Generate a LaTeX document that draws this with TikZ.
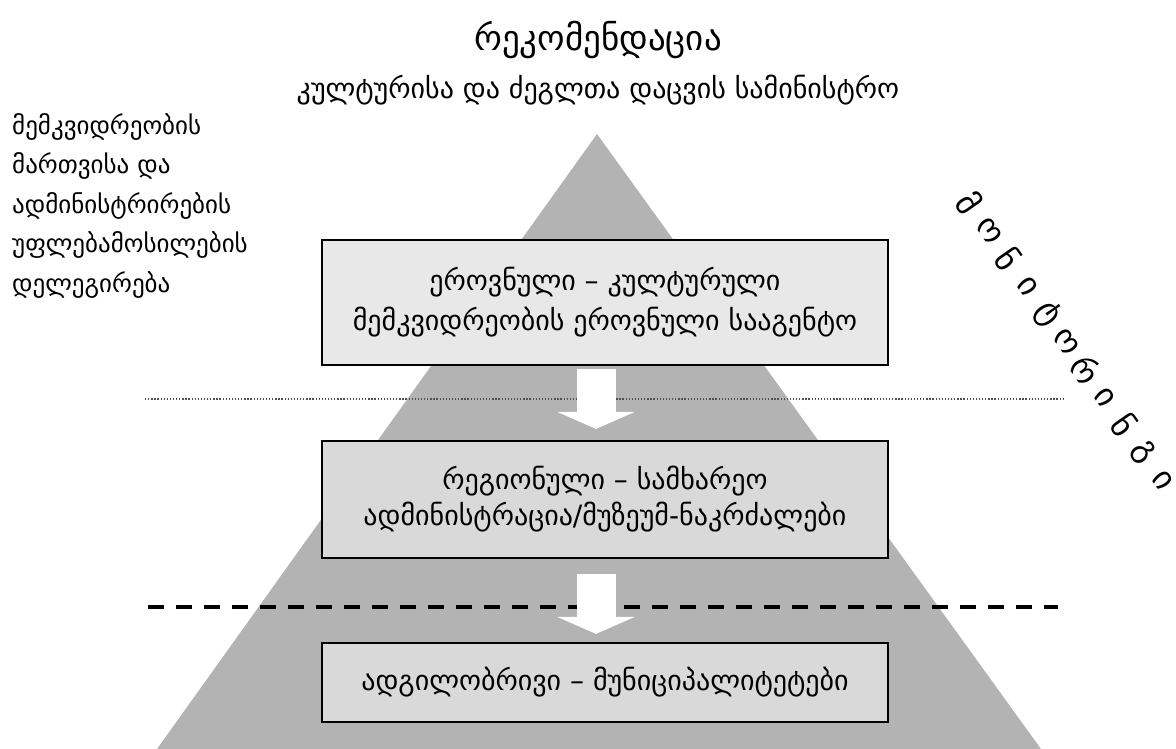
\documentclass[tikz,border=0pt]{standalone}
\usepackage{fontspec}
\setmainfont{DejaVu Sans}
\usetikzlibrary{arrows.meta,calc}
\definecolor{trigray}{HTML}{B3B3B3}
\definecolor{boxlight}{HTML}{E8E8E8}
\definecolor{boxmid}{HTML}{D9D9D9}
\definecolor{dotgray}{HTML}{505050}
\begin{document}
\begin{tikzpicture}[x=1pt,y=-1pt,
  levelbox/.style={draw=black, line width=2.2pt, minimum width=566pt, align=center, inner sep=0pt, font=\fontsize{28}{40}\selectfont},
  blockarrow/.style={white, line width=39pt, -{Triangle[width=77pt,length=17pt]}},
  letterstyle/.style={font=\fontsize{33}{36}\selectfont, rotate=-55, inner sep=0pt}
]
\useasboundingbox (0,0) rectangle (1176,749);
% pyramid
\fill[trigray] (597,134) -- (1041,749) -- (157,749) -- cycle;
% separators
\draw[dotgray, line width=1.3pt, dash pattern=on 1.3pt off 1.8pt] (145,399) -- (1064,399);
\draw[black, line width=4pt, dash pattern=on 16pt off 12pt] (148,607) -- (1058,607);
% titles
\node[font=\fontsize{35}{40}\selectfont] (title) at (598,40) {რეკომენდაცია};
\node[font=\fontsize{28}{32}\selectfont] (ministry) at (598,90) {კულტურისა და ძეგლთა დაცვის სამინისტრო};
% left text
\node[anchor=north west, align=left, inner sep=0pt, font=\fontsize{25}{39.5}\selectfont] (deleg) at (12,113)
  {მემკვიდრეობის\\მართვისა და\\ადმინისტრირების\\უფლებამოსილების\\დელეგირება};
% boxes
\node[levelbox, fill=boxlight, minimum height=125pt] (b1) at (605,302.5)
  {ეროვნული – კულტურული\\მემკვიდრეობის ეროვნული სააგენტო};
\node[levelbox, fill=boxmid, minimum height=117pt, font=\fontsize{28}{36}\selectfont] (b2) at (605,499.5)
  {რეგიონული – სამხარეო\\ადმინისტრაცია/მუზეუმ-ნაკრძალები};
\node[levelbox, fill=boxmid, minimum height=79pt] (b3) at (605,682.5)
  {ადგილობრივი – მუნიციპალიტეტები};
% arrows
\draw[blockarrow] ([xshift=-9pt,yshift=-3pt]b1.south) -- ([xshift=-9pt,yshift=11pt]b2.north);
\draw[blockarrow] ([xshift=-9pt,yshift=-15pt]b2.south) -- ([xshift=-9pt,yshift=8pt]b3.north);
% monitoring
\foreach \ch [count=\i from 0] in {მ,ო,ნ,ი,ტ,ო,რ,ი,ნ,გ,ი} {
  \node[letterstyle] (mon\i) at ({970+19.3*\i},{203+27.7*\i}) {\ch};
}
\end{tikzpicture}
\end{document}
